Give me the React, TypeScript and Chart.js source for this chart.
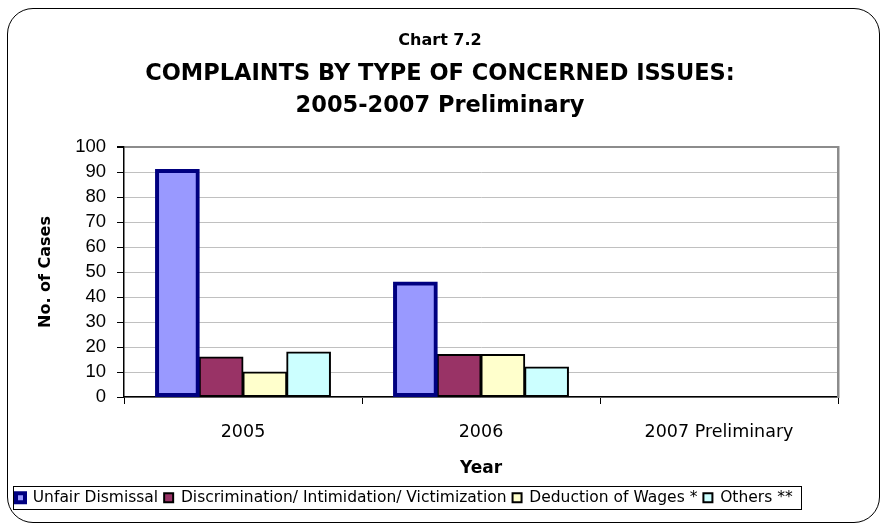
import React, { useEffect, useRef } from 'react';
import { Chart, registerables } from 'chart.js';

Chart.register(...registerables);

const categories = ['2005', '2006', '2007 Preliminary'];
const seriesNames = [
  'Unfair Dismissal',
  'Discrimination/ Intimidation/ Victimization',
  'Deduction of Wages *',
  'Others **',
];
const unfairDismissal = [91, 46, null];
const discrimination = [16, 17, null];
const deductionOfWages = [10, 17, null];
const others = [18, 12, null];
const yTickValues = [0, 10, 20, 30, 40, 50, 60, 70, 80, 90, 100];
const titleText = 'Chart 7.2';
const subtitleLines = ['COMPLAINTS BY TYPE OF CONCERNED ISSUES:', '2005-2007 Preliminary'];
const yAxisTitle = 'No. of Cases';
const xAxisTitle = 'Year';

const GOTHIC = '"DejaVu Sans", sans-serif';
const ARIAL = '"Liberation Sans", Arial, sans-serif';

const BAR_LAYOUT = { categoryPercentage: 0.735, barPercentage: 1, borderSkipped: false, inflateAmount: 0.5 };

const legendBoxPlugin = {
  id: 'legendBox',
  afterDraw(chart: any) {
    const hb = chart.legend && chart.legend.legendHitBoxes;
    if (!hb || !hb.length) return;
    const first = hb[0];
    const last = hb[hb.length - 1];
    const cy = first.top + first.height / 2;
    const ctx = chart.ctx;
    ctx.save();
    ctx.strokeStyle = '#000';
    ctx.lineWidth = 1;
    const left = Math.round(first.left - 3) + 0.5;
    const right = Math.round(last.left + last.width + 8) + 0.5;
    const top = Math.round(cy - 12) + 0.5;
    ctx.strokeRect(left, top, right - left, 23);
    ctx.restore();
  },
};

export default function App() {
  const ref = useRef<HTMLCanvasElement | null>(null);

  useEffect(() => {
    if (!ref.current) return;
    const chart = new Chart(ref.current, {
      type: 'bar',
      data: {
        labels: categories,
        datasets: [
          {
            label: seriesNames[0],
            data: unfairDismissal,
            backgroundColor: '#9999FF',
            borderColor: '#000080',
            borderWidth: 4,
            ...BAR_LAYOUT,
          },
          {
            label: seriesNames[1],
            data: discrimination,
            backgroundColor: '#993366',
            borderColor: '#000000',
            borderWidth: 2,
            ...BAR_LAYOUT,
          },
          {
            label: seriesNames[2],
            data: deductionOfWages,
            backgroundColor: '#FFFFCC',
            borderColor: '#000000',
            borderWidth: 2,
            ...BAR_LAYOUT,
          },
          {
            label: seriesNames[3],
            data: others,
            backgroundColor: '#CCFFFF',
            borderColor: '#000000',
            borderWidth: 2,
            ...BAR_LAYOUT,
          },
        ] as any,
      },
      options: {
        responsive: false,
        animation: false,
        devicePixelRatio: 1,
        layout: { padding: { top: 10, left: 10, right: 10, bottom: 13.5 } },
        plugins: {
          tooltip: { enabled: false },
          title: {
            display: true,
            text: titleText,
            color: '#000',
            font: { family: GOTHIC, size: 16, weight: 'bold', lineHeight: '20px' as any },
            padding: { top: 21, bottom: 0 },
          },
          subtitle: {
            display: true,
            text: subtitleLines,
            color: '#000',
            font: { family: GOTHIC, size: 22.5, weight: 'bold', lineHeight: '32px' as any },
            padding: { top: 7, bottom: 25 },
          },
          legend: {
            display: true,
            position: 'bottom',
            align: 'start',
            labels: {
              color: '#000',
              font: { family: GOTHIC, size: 15.5 },
              boxWidth: 9,
              boxHeight: 9,
              padding: 6,
            },
          },
        },
        scales: {
          x: {
            type: 'category',
            offset: true,
            grid: {
              display: true,
              offset: true,
              drawOnChartArea: false,
              drawTicks: true,
              tickLength: 7,
              tickColor: '#000',
              color: '#000',
            },
            border: { display: true, color: '#000', width: 1.5 },
            ticks: {
              color: '#000',
              font: { family: GOTHIC, size: 17.5 },
              padding: 18,
              maxRotation: 0,
            },
            title: {
              display: true,
              text: xAxisTitle,
              color: '#000',
              font: { family: GOTHIC, size: 17, weight: 'bold' },
              padding: { top: 0, bottom: 5 },
            },
            afterFit: (scale: any) => {
              scale.height = 87;
            },
          },
          y: {
            type: 'linear',
            position: 'left',
            min: 0,
            max: 100,
            afterBuildTicks: (scale: any) => {
              scale.ticks = yTickValues.map((v) => ({ value: v }));
            },
            grid: {
              color: (c: any) => (c.tick && c.tick.value === 100 ? '#8c8c8c' : '#c0c0c0'),
              lineWidth: (c: any) => (c.tick && c.tick.value === 100 ? 2 : 1),
              tickColor: '#000',
              tickLength: 7,
              drawTicks: true,
            },
            border: { display: true, color: '#000', width: 1.5 },
            ticks: {
              color: '#000',
              font: { family: ARIAL, size: 18.5 },
              padding: 11,
              autoSkip: false,
            },
            title: {
              display: true,
              text: yAxisTitle,
              color: '#000',
              font: { family: GOTHIC, size: 16, weight: 'bold' },
              padding: { top: 26, bottom: 0 },
            },
            afterFit: (scale: any) => {
              scale.width = 114;
            },
          },
          yRight: {
            type: 'linear',
            position: 'right',
            min: 0,
            max: 100,
            grid: { display: false, drawTicks: false },
            border: { display: true, color: '#8c8c8c', width: 2.5 },
            ticks: { display: false },
            afterFit: (scale: any) => {
              scale.width = 32;
            },
          },
        },
      } as any,
      plugins: [legendBoxPlugin],
    });
    return () => chart.destroy();
  }, []);

  return (
    <div style={{ position: 'absolute', left: 0, top: 0, width: 880, height: 529, overflow: 'hidden', background: '#fff' }}>
      <div
        style={{
          position: 'absolute',
          left: 7,
          top: 8,
          width: 873,
          height: 515,
          border: '1.5px solid #000',
          borderRadius: 26,
          boxSizing: 'border-box',
        }}
      />
      <canvas ref={ref} width={880} height={529} style={{ position: 'absolute', left: 0, top: 0, width: 880, height: 529 }} />
    </div>
  );
}
